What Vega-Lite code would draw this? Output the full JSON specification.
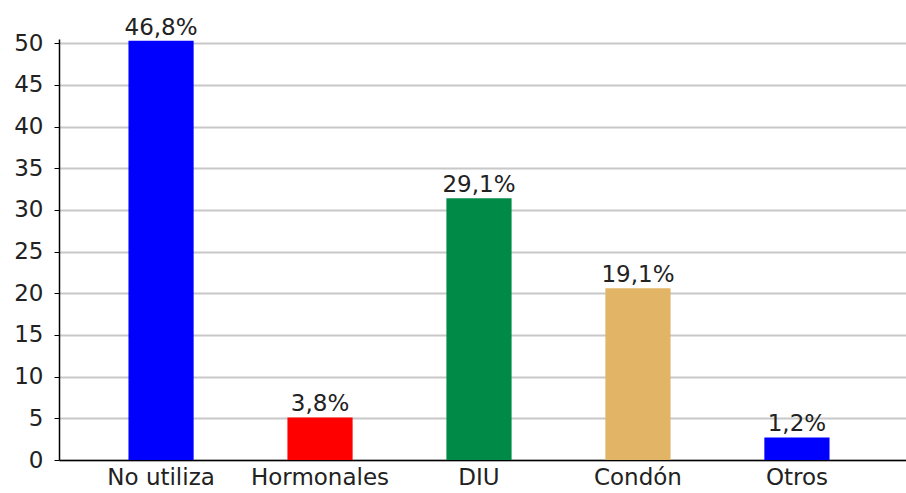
{
  "$schema": "https://vega.github.io/schema/vega-lite/v6.json",
  "width": 847,
  "height": 421,
  "autosize": "none",
  "padding": {"left": 59, "top": 39, "right": 0, "bottom": 33},
  "background": "white",
  "config": {"view": {"stroke": null}, "font": "DejaVu Sans"},
  "data": {
    "values": [
      {"metodo": "No utiliza", "valor": 50.3, "etiqueta": "46,8%"},
      {"metodo": "Hormonales", "valor": 5.1, "etiqueta": "3,8%"},
      {"metodo": "DIU", "valor": 31.4, "etiqueta": "29,1%"},
      {"metodo": "Condón", "valor": 20.6, "etiqueta": "19,1%"},
      {"metodo": "Otros", "valor": 2.7, "etiqueta": "1,2%"}
    ]
  },
  "encoding": {
    "x": {
      "field": "metodo",
      "type": "nominal",
      "sort": null,
      "scale": {"paddingInner": 0.59, "paddingOuter": 0.459, "align": 0.476},
      "axis": {
        "title": null,
        "labelAngle": 0,
        "ticks": false,
        "domainColor": "#000000",
        "domainWidth": 1.5,
        "labelFont": "DejaVu Sans",
        "labelFontSize": 23,
        "labelColor": "#222222",
        "labelPadding": 6
      }
    },
    "y": {
      "field": "valor",
      "type": "quantitative",
      "scale": {"domain": [0, 50.5], "nice": false, "zero": true},
      "axis": {
        "title": null,
        "values": [0, 5, 10, 15, 20, 25, 30, 35, 40, 45, 50],
        "grid": true,
        "gridColor": "#c8c8c8",
        "gridWidth": 2,
        "domainColor": "#000000",
        "domainWidth": 1.5,
        "tickColor": "#000000",
        "tickSize": 5,
        "labelFont": "DejaVu Sans",
        "labelFontSize": 23,
        "labelColor": "#222222",
        "labelPadding": 11
      }
    }
  },
  "layer": [
    {
      "mark": {"type": "bar"},
      "encoding": {
        "color": {
          "field": "metodo",
          "type": "nominal",
          "legend": null,
          "scale": {
            "domain": ["No utiliza", "Hormonales", "DIU", "Condón", "Otros"],
            "range": ["#0000ff", "#ff0000", "#008a47", "#e2b465", "#0000ff"]
          }
        }
      }
    },
    {
      "mark": {"type": "text", "baseline": "alphabetic", "dy": -6, "fontSize": 23, "font": "DejaVu Sans", "color": "#222222"},
      "encoding": {"text": {"field": "etiqueta"}}
    }
  ]
}
